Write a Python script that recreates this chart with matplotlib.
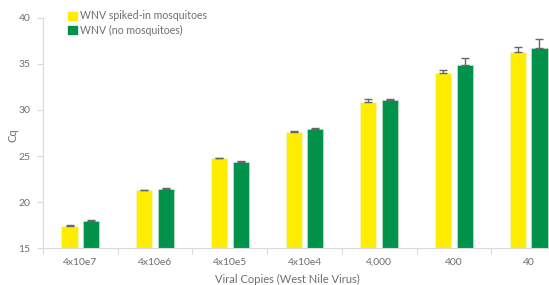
import numpy as np
import matplotlib.pyplot as plt
from matplotlib.patches import Patch

plt.rcParams['font.family'] = ['Lato', 'DejaVu Sans']

categories = ['4x10e7', '4x10e6', '4x10e5', '4x10e4', '4,000', '400', '40']
spiked = [17.4, 21.3, 24.75, 27.6, 30.85, 34.0, 36.35]
spiked_err = [0.08, 0.05, 0.07, 0.12, 0.3, 0.32, 0.55]
no_mosq = [17.95, 21.4, 24.4, 27.97, 31.1, 34.9, 36.7]
no_mosq_err = [0.08, 0.15, 0.06, 0.04, 0.05, 0.8, 1.0]

yellow = '#FFED00'
green = '#00914A'
grey = '#6e6e6e'

fig = plt.figure(figsize=(5.49, 2.85), dpi=100)
# axis spans x 43..566 px (cropped at the right like the original)
ax = fig.add_axes([43 / 549, 1 - 248 / 285, 523 / 549, 230 / 285])

x = np.arange(len(categories))
w = 0.215
off = 0.145
ekw = dict(ecolor='#666666', elinewidth=1.0, capsize=3, capthick=1.0)
zeros = [0] * len(categories)
ax.bar(x - off, spiked, w, color=yellow, edgecolor='#f5f5dc', linewidth=0.4,
       yerr=[zeros, spiked_err], error_kw=ekw, zorder=2)
ax.bar(x + off, no_mosq, w, color=green, edgecolor='#cfe8d8', linewidth=0.4,
       yerr=[zeros, no_mosq_err], error_kw=ekw, zorder=2)

ax.set_xlim(-0.5, len(categories) - 0.5)
ax.set_ylim(15, 40)
ax.set_yticks([15, 20, 25, 30, 35, 40])
ax.set_xticks(x)
ax.set_xticklabels(categories)
ax.set_xticks(np.arange(len(categories) + 1) - 0.5, minor=True)
ax.tick_params(axis='x', which='major', length=0, pad=7, labelsize=7.5, labelcolor=grey)
ax.tick_params(axis='x', which='minor', length=4, color='#d9d9d9', width=0.8)
ax.tick_params(axis='y', length=4, color='#d9d9d9', width=0.8, labelsize=7.5,
               labelcolor=grey, pad=5)

for s in ['top', 'right']:
    ax.spines[s].set_visible(False)
for s in ['left', 'bottom']:
    ax.spines[s].set_color('#d9d9d9')
    ax.spines[s].set_linewidth(0.8)

fig.text(13 / 549, 1 - 135 / 285, 'Cq', rotation=90, ha='center', va='center',
         fontsize=8, color=grey)
fig.text(287 / 549, 1 - 279 / 285, 'Viral Copies (West Nile Virus)', ha='center',
         va='center', fontsize=8, color=grey)

handles = [Patch(color=yellow), Patch(color=green)]
fig.legend(handles, ['WNV spiked-in mosquitoes', 'WNV (no mosquitoes)'],
           loc='upper left', bbox_to_anchor=(64 / 549, 1 - 6 / 285), frameon=False,
           fontsize=7.6, handlelength=0.8, handleheight=0.8, handletextpad=0.3,
           labelspacing=0.35, labelcolor=grey, borderaxespad=0)

fig.savefig('out.png', dpi=100)
